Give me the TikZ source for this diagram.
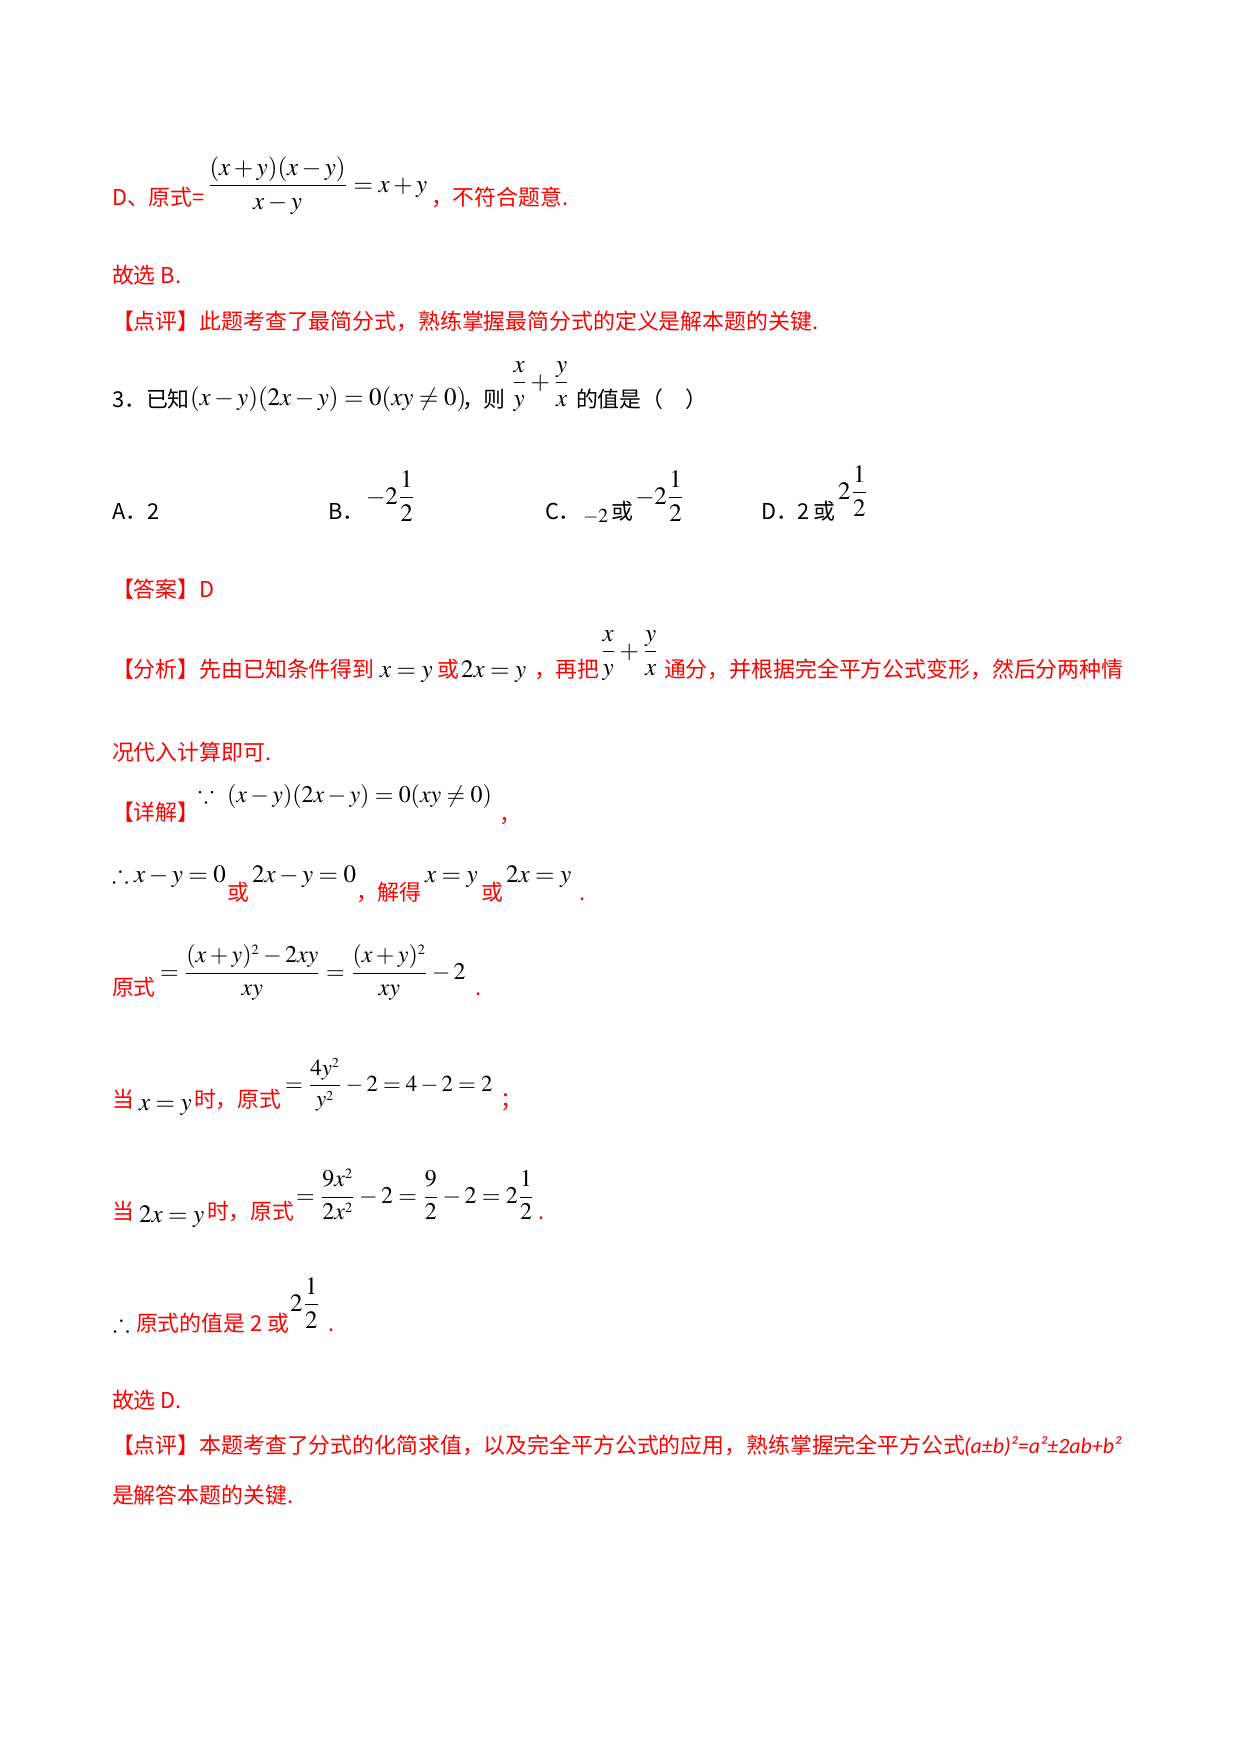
\documentclass[tikz,border=0pt]{standalone}
\usepackage{mathptmx}
\usepackage{amssymb}
\usepackage[no-math]{fontspec}
\DeclareMathSizes{12}{12}{7}{5}
\DeclareMathSizes{11}{11}{6.5}{5}
\DeclareMathSizes{11.5}{11.5}{6.8}{5}
\newfontfamily\cjk{Noto Sans CJK SC}
\newfontfamily\latit{Carlito}
\definecolor{redtxt}{RGB}{255,0,0}
\begin{document}
\begin{tikzpicture}[x=0.48pt,y=-0.48pt,
  tx/.style={anchor=base west,inner sep=0pt,outer sep=0pt,text=redtxt,font=\cjk\fontsize{10.5}{12}\selectfont},
  tb/.style={tx,text=black},
  mt/.style={anchor=base west,inner sep=0pt,outer sep=0pt,text=black,font=\fontsize{12}{14}\selectfont},
  ms/.style={mt,font=\fontsize{11}{13}\selectfont},
  mm/.style={mt,font=\fontsize{11.5}{13}\selectfont}]
\fill[white] (0,0) rectangle (1240,1754);
\useasboundingbox (0,0) rectangle (1240,1754);
% line 1
\node[tx] (d1) at (112,205) {D、原式=};
\node[mt] (d2) at (207,192) {$\displaystyle\frac{(x+y)(x-y)}{x-y}=x+y$};
\node[tx] (d3) at (431,205) {，不符合题意.};
% line 2-3
\node[tx] (g1) at (112,283) {故选 B.};
\node[tx] (p1) at (112,329) {【点评】此题考查了最简分式，熟练掌握最简分式的定义是解本题的关键.};
% line 4
\node[tb] (q1) at (112,407) {3．已知};
\node[mt] (q2) at (190,405) {$(x-y)(2x-y)=0(xy\neq 0)$};
\node[tb] (q3) at (462,407) {，则};
\node[mt] (q4) at (511,389) {$\displaystyle\frac{x}{y}+\frac{y}{x}$};
\node[tb] (q5) at (576,407) {的值是（\hspace{1em}）};
% options
\node[tb] (oa) at (112,519) {A．2};
\node[tb] (ob) at (328,519) {B．};
\node[mt] (obm) at (366,504) {$-2\displaystyle\frac{1}{2}$};
\node[tb] (oc) at (545,519) {C．};
\node[mt,font=\fontsize{9.5}{12}\selectfont] (ocm1) at (583,522) {$-2$};
\node[tb] (oc2) at (611,519) {或};
\node[mt] (ocm2) at (635,504) {$-2\displaystyle\frac{1}{2}$};
\node[tb] (od) at (761,519) {D．2\,或};
\node[mt] (odm) at (838,499) {$2\displaystyle\frac{1}{2}$};
% answer
\node[tx] (ans) at (112,597) {【答案】D};
% analysis
\node[tx] (f1) at (112,677) {【分析】先由已知条件得到};
\node[mt] (f2) at (380,677) {$x=y$};
\node[tx] (f3) at (437,677) {或};
\node[mt] (f4) at (461,677) {$2x=y$};
\node[tx] (f5) at (534,677) {，再把};
\node[mt] (f6) at (600,658) {$\displaystyle\frac{x}{y}+\frac{y}{x}$};
\node[tx] (f7) at (664,677) {通分，并根据完全平方公式变形，然后分两种情};
\node[tx] (f8) at (112,760) {况代入计算即可.};
% detail
\node[tx] (x1) at (112,820) {【详解】};
\node[mm] (x2) at (198,802) {$\because\ (x-y)(2x-y)=0(xy\neq 0)$};
\node[tx] (x3) at (499,822) {，};
\node[mt] (y1) at (112,882) {$\therefore x-y=0$};
\node[tx] (y2) at (227,900) {或};
\node[mt] (y3) at (252,882) {$2x-y=0$};
\node[tx] (y4) at (356,900) {，解得};
\node[mt] (y5) at (425,882) {$x=y$};
\node[tx] (y6) at (481,900) {或};
\node[mt] (y7) at (506,882) {$2x=y$};
\node[tx] (y8) at (579,900) {.};
\node[tx] (z1) at (112,995) {原式};
\node[mm] (z2) at (160,979) {$=\displaystyle\frac{(x+y)^2-2xy}{xy}=\frac{(x+y)^2}{xy}-2$};
\node[tx] (z3) at (475,995) {.};
\node[tx] (w1) at (112,1107) {当};
\node[mt] (w2) at (139,1110) {$x=y$};
\node[tx] (w3) at (194,1107) {时，原式};
\node[ms] (w4) at (285,1091) {$=\displaystyle\frac{4y^2}{y^2}-2=4-2=2$};
\node[tx] (w5) at (500,1107) {；};
\node[tx] (v1) at (112,1219) {当};
\node[mt] (v2) at (139,1222) {$2x=y$};
\node[tx] (v3) at (207,1219) {时，原式};
\node[mm] (v4) at (296,1203) {$=\displaystyle\frac{9x^2}{2x^2}-2=\frac{9}{2}-2=2\frac{1}{2}$};
\node[tx] (v5) at (538,1219) {.};
\node[mt] (u1) at (113,1331) {$\therefore$};
\node[tx] (u2) at (136,1331) {原式的值是 2 或};
\node[mt] (u3) at (290,1311) {$2\displaystyle\frac{1}{2}$};
\node[tx] (u4) at (328,1331) {.};
\node[tx] (k1) at (112,1408) {故选 D.};
\node[tx] (k2) at (112,1453) {【点评】本题考查了分式的化简求值，以及完全平方公式的应用，熟练掌握完全平方公式};
\node[tx,font=\latit\itshape\fontsize{10.5}{12}\selectfont] (k3) at (964,1453) {(a±b)²=a²±2ab+b²};
\node[tx] (k4) at (112,1503) {是解答本题的关键.};
\end{tikzpicture}
\end{document}
